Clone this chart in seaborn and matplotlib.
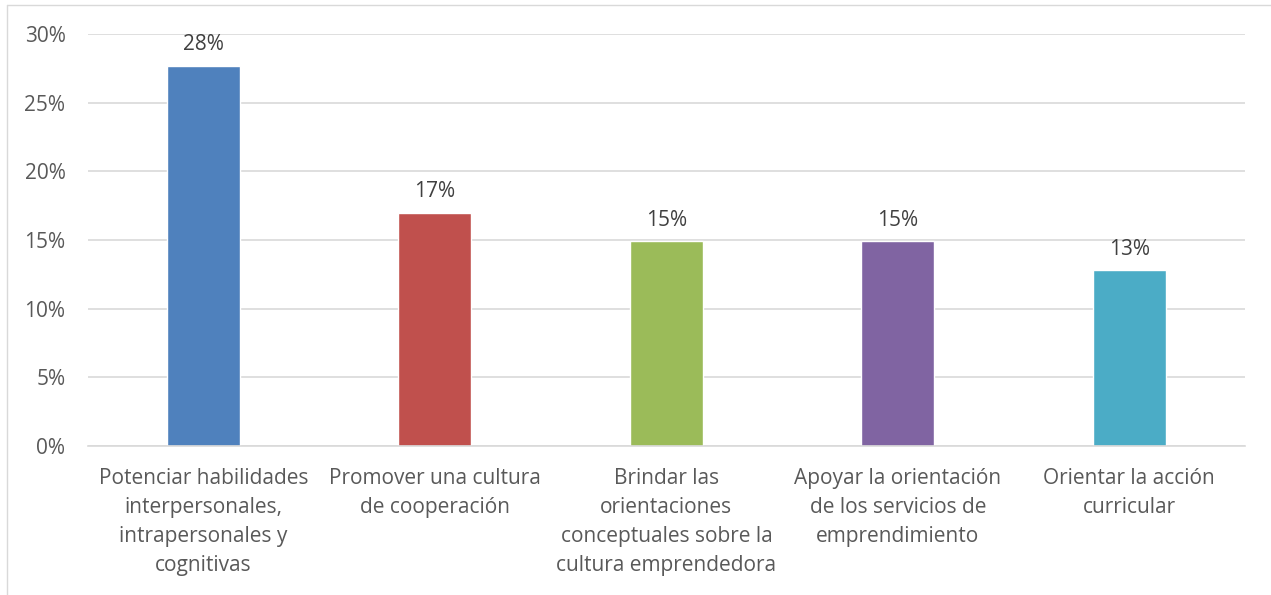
import matplotlib
matplotlib.use("Agg")
import matplotlib.pyplot as plt
import seaborn as sns
import pandas as pd
from matplotlib.ticker import PercentFormatter

categories = [
    "Potenciar habilidades\ninterpersonales,\nintrapersonales y\ncognitivas",
    "Promover una cultura\nde cooperación",
    "Brindar las\norientaciones\nconceptuales sobre la\ncultura emprendedora",
    "Apoyar la orientación\nde los servicios de\nemprendimiento",
    "Orientar la acción\ncurricular",
]
values = [27.7, 17.0, 14.9, 14.9, 12.8]
colors = ["#4F81BD", "#C0504D", "#9BBB59", "#8064A2", "#4BACC6"]

df = pd.DataFrame({"cat": categories, "val": values})

sns.set_style("white")
plt.rcParams["font.family"] = ["Open Sans", "DejaVu Sans"]
text_color = "#595959"

fig = plt.figure(figsize=(12.71, 5.95), dpi=100)
ax = fig.add_axes([0.069, 0.2504, 0.9106, 0.6925])

sns.barplot(data=df, x="cat", y="val", hue="cat", palette=colors, width=0.316,
            legend=False, ax=ax, saturation=1)

for i, v in enumerate(values):
    ax.text(i, v + 0.75, f"{round(v):.0f}%", ha="center", va="bottom",
            fontsize=15, color="#404040")

ax.set_ylim(0, 30)
ax.set_xlim(-0.5, 4.5)
ax.set_yticks(range(0, 31, 5))
ax.yaxis.set_major_formatter(PercentFormatter(decimals=0))
ax.grid(axis="y", color="#D9D9D9", linewidth=1.2)
ax.set_axisbelow(True)
ax.set_xlabel("")
ax.set_ylabel("")
ax.tick_params(axis="both", length=0, labelsize=15, colors=text_color)
ax.tick_params(axis="y", pad=16)
ax.tick_params(axis="x", pad=16)
for lbl in ax.get_xticklabels():
    lbl.set_linespacing(1.5)
for s in ["top", "right", "left"]:
    ax.spines[s].set_visible(False)
ax.spines["bottom"].set_color("#D9D9D9")
ax.spines["bottom"].set_linewidth(1.2)

# partial chart frame visible at top and left
fig.add_artist(plt.Line2D([7 / 1271, 1], [1 - 5 / 595, 1 - 5 / 595], color="#D9D9D9", lw=1))
fig.add_artist(plt.Line2D([7 / 1271, 7 / 1271], [0, 1 - 5 / 595], color="#D9D9D9", lw=1))

fig.savefig("out.png", dpi=100, facecolor="white")
